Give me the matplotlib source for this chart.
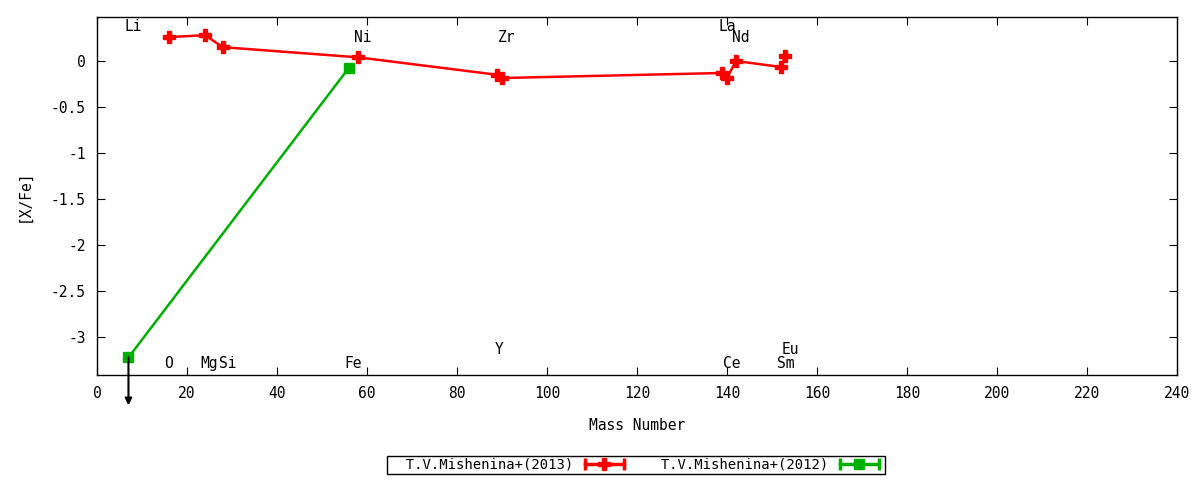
import matplotlib
matplotlib.use("Agg")
import matplotlib.pyplot as plt
from matplotlib.lines import Line2D
from matplotlib.legend_handler import HandlerLine2D, HandlerTuple

plt.rcParams['font.family'] = ['DejaVu Sans Mono']

# T.V.Mishenina+(2013)
mass_2013 = [16, 24, 28, 58, 89, 90, 139, 140, 142, 152, 153]
xfe_2013 = [0.26, 0.28, 0.15, 0.04, -0.15, -0.185, -0.13, -0.185, 0.0, -0.065, 0.055]

# T.V.Mishenina+(2012)
mass_2012 = [7, 56]
xfe_2012 = [-3.22, -0.073]
upper_limit_mass = 7
upper_limit_xfe = -3.22

# element labels
elem_names = ['Li', 'O', 'Mg', 'Si', 'Fe', 'Ni', 'Y', 'Zr', 'La', 'Ce', 'Nd', 'Sm', 'Eu']
elem_x = [8, 16, 25, 29, 57, 59, 89.3, 91, 140, 141, 143, 153, 154]
elem_y = [0.37, -3.28, -3.28, -3.28, -3.28, 0.26, -3.13, 0.26, 0.37, -3.28, 0.26, -3.28, -3.13]

xticks = list(range(0, 241, 20))
yticks = [0, -0.5, -1, -1.5, -2, -2.5, -3]
ytick_labels = ['0', '-0.5', '-1', '-1.5', '-2', '-2.5', '-3']

legend_labels = ['  T.V.Mishenina+(2013)', '  T.V.Mishenina+(2012)']

red = '#ff0000'
green = '#00b000'
fs = 10

fig = plt.figure(figsize=(12, 4.8), dpi=100)
ax = fig.add_axes([0.0808, 0.2188, 0.9, 0.7458])

ax.plot(mass_2013, xfe_2013, color=red, lw=1.8, marker='P', ms=8, mec=red, mfc=red)
ax.plot(mass_2012, xfe_2012, color=green, lw=1.8, marker='s', ms=7, mec=green, mfc=green)

# upper limit arrow
ax.annotate('', xy=(upper_limit_mass, upper_limit_xfe - 0.52),
            xytext=(upper_limit_mass, upper_limit_xfe),
            arrowprops=dict(arrowstyle='-|>', color='black', lw=1.5,
                            mutation_scale=10, shrinkA=0, shrinkB=0),
            annotation_clip=False)

for name, x, y in zip(elem_names, elem_x, elem_y):
    ax.text(x, y, name, ha='center', va='center', fontsize=fs + 0.5)

ax.set_xlim(0, 240)
ax.set_ylim(-3.41, 0.478)
ax.set_xticks(xticks)
ax.set_yticks(yticks)
ax.set_yticklabels(ytick_labels)
ax.tick_params(direction='in', top=True, right=True, length=6, labelsize=fs + 0.5, pad=8)
ax.set_xlabel('Mass Number', fontsize=fs + 0.5, labelpad=12)
ax.set_ylabel('[X/Fe]', fontsize=fs + 0.5, labelpad=14)
for s in ax.spines.values():
    s.set_linewidth(1)

# legend handles: line with end caps and a marker in the middle
cap_red = Line2D([], [], color=red, lw=2.5, marker='|', ms=8, mew=2.5)
pt_red = Line2D([], [], color=red, lw=0, marker='P', ms=8)
cap_green = Line2D([], [], color=green, lw=2.5, marker='|', ms=8, mew=2.5)
pt_green = Line2D([], [], color=green, lw=0, marker='s', ms=7)
hmap = {cap_red: HandlerLine2D(numpoints=2), cap_green: HandlerLine2D(numpoints=2),
        tuple: HandlerTuple(ndivide=1, pad=0)}
leg = fig.legend([(cap_red, pt_red), (cap_green, pt_green)], legend_labels,
                 handler_map=hmap, loc='center', bbox_to_anchor=(0.53, 0.032),
                 ncol=2, markerfirst=False, fancybox=False, framealpha=1,
                 edgecolor='black', fontsize=fs, handlelength=3.4,
                 columnspacing=1.2, borderpad=0.15, handletextpad=0.5,
                 borderaxespad=0)
leg.get_frame().set_linewidth(1)

fig.savefig('out.png', dpi=100)
